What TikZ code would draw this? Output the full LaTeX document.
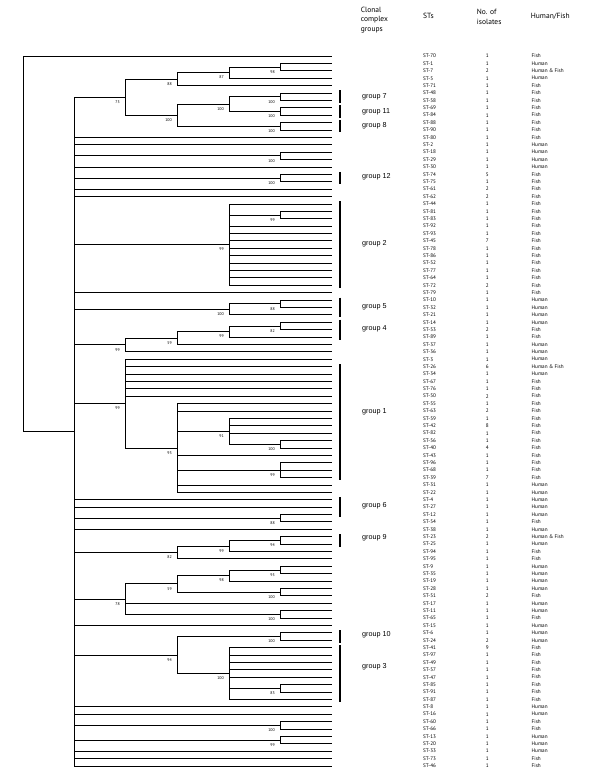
\documentclass[tikz,border=0pt]{standalone}
\usepackage{fontspec}
\setmainfont{PT Sans}
\newfontfamily\grpfont{Liberation Sans}
\usetikzlibrary{calc}

\tikzset{
  branch/.style={line width=0.8pt, line join=miter},
  boot/.style={font=\fontsize{4}{4}\selectfont, anchor=north east, inner sep=0pt, xshift=-5pt, yshift=-3.3pt},
  lbl/.style={font=\fontsize{5.2}{6}\selectfont, anchor=west, inner sep=0pt},
  cnt/.style={font=\fontsize{5.2}{6}\selectfont, anchor=center, inner sep=0pt},
  head/.style={font=\fontsize{7.5}{9.3}\selectfont, anchor=west, inner sep=0pt, align=left},
  grpbar/.style={line width=2pt},
  grplbl/.style={font=\grpfont\fontsize{7.2}{8}\selectfont, anchor=west, inner sep=0pt},
}

% clade: name, x, first child, last child, bootstrap, children
\newcommand{\clade}[6]{%
  \path let \p1=($(#3)!.5!(#4)$) in coordinate (#1) at (#2pt,\y1);
  \foreach \ch in {#6} \draw[branch] (#1) |- (\ch);
  \node[boot] (#1b) at (#1) {#5};}

% group bar: name, first leaf, last leaf, text, label y
\newcommand{\grp}[5]{%
  \path let \p1=(#2), \p2=(#3) in
    coordinate (#1a) at (340pt,\y1+2.5pt)
    coordinate (#1b) at (340pt,\y2-2.5pt);
  \draw[grpbar] (#1a) -- (#1b);
  \node[grplbl] (#1) at (362,#5) {#4};}

\begin{document}
\begin{tikzpicture}[x=1pt, y=-1pt]
    \useasboundingbox (0,0) rectangle (600,776);

    % Header
    \node[head] (hcc) at (360.7,20) {Clonal\\complex\\groups};
    \node[head] (hst) at (423,16) {STs};
    \node[head] (hno) at (476.7,17) {No. of\\isolates};
    \node[head] (hhf) at (530.7,16) {Human/Fish};

    % Leaves and their columns
    \foreach \i/\st/\n/\src in {
      1/70/1/Fish, 2/1/1/Human, 3/7/2/Human \& Fish, 4/5/1/Human, 5/71/1/Fish,
      6/48/1/Fish, 7/58/1/Fish, 8/69/1/Fish, 9/84/1/Fish, 10/88/1/Fish,
      11/90/1/Fish, 12/80/1/Fish, 13/2/1/Human, 14/18/1/Human, 15/29/1/Human,
      16/30/1/Human, 17/74/5/Fish, 18/75/1/Fish, 19/61/2/Fish, 20/62/2/Fish,
      21/44/1/Fish, 22/81/1/Fish, 23/83/1/Fish, 24/92/1/Fish, 25/93/1/Fish,
      26/45/7/Fish, 27/78/1/Fish, 28/86/1/Fish, 29/52/1/Fish, 30/77/1/Fish,
      31/64/1/Fish, 32/72/2/Fish, 33/79/1/Fish, 34/10/1/Human, 35/32/1/Human,
      36/21/1/Human, 37/14/1/Human, 38/53/2/Fish, 39/89/1/Fish, 40/37/1/Human,
      41/36/1/Human, 42/3/1/Human, 43/26/6/Human \& Fish, 44/34/1/Human, 45/67/1/Fish,
      46/76/1/Fish, 47/50/2/Fish, 48/55/1/Fish, 49/63/2/Fish, 50/59/1/Fish,
      51/42/8/Fish, 52/82/1/Fish, 53/56/1/Fish, 54/40/4/Fish, 55/43/1/Fish,
      56/96/1/Fish, 57/68/1/Fish, 58/39/7/Fish, 59/31/1/Human, 60/22/1/Human,
      61/4/1/Human, 62/27/1/Human, 63/12/1/Human, 64/54/1/Fish, 65/38/1/Human,
      66/23/2/Human \& Fish, 67/25/1/Human, 68/94/1/Fish, 69/95/1/Fish, 70/9/1/Human,
      71/35/1/Human, 72/19/1/Human, 73/28/1/Human, 74/51/2/Fish, 75/17/1/Human,
      76/11/1/Human, 77/65/1/Fish, 78/15/1/Human, 79/6/1/Human, 80/24/2/Human,
      81/41/9/Fish, 82/97/1/Fish, 83/49/1/Fish, 84/57/1/Fish, 85/47/1/Fish,
      86/85/1/Fish, 87/91/1/Fish, 88/87/1/Fish, 89/8/1/Human, 90/16/1/Human,
      91/60/1/Fish, 92/66/1/Fish, 93/13/1/Human, 94/20/1/Human, 95/33/1/Human,
      96/73/1/Fish, 97/46/1/Fish}
    {
      \pgfmathsetmacro{\yy}{56+7.395*(\i-1)}
      \coordinate (l\i) at (332,\yy);
      \node[lbl] (st\i) at (423,\yy) {ST-\st};
      \node[cnt] (n\i) at (487.3,\yy) {\n};
      \node[lbl] (h\i) at (531.5,\yy) {\src};
    }

    % Upper clades
    \clade{c1}{280}{l2}{l3}{98}{l2,l3}
    \clade{c2}{229}{c1}{l4}{87}{c1,l4}
    \clade{c3}{177}{c2}{l5}{88}{c2,l5}
    \clade{g7}{280}{l6}{l7}{100}{l6,l7}
    \clade{g11}{280}{l8}{l9}{100}{l8,l9}
    \clade{c4}{229}{g7}{g11}{100}{g7,g11}
    \clade{g8}{280}{l10}{l11}{100}{l10,l11}
    \clade{c5}{177}{c4}{g8}{100}{c4,g8}
    \clade{c6}{125}{c3}{c5}{75}{c3,c5}
    \clade{c7}{280}{l14}{l15}{100}{l14,l15}
    \clade{g12}{280}{l17}{l18}{100}{l17,l18}
    \clade{c8}{280}{l22}{l23}{99}{l22,l23}
    \clade{g2}{229}{l21}{l32}{99}{l21,c8,l24,l25,l26,l27,l28,l29,l30,l31,l32}
    \clade{c9}{280}{l34}{l35}{88}{l34,l35}
    \clade{g5}{229}{c9}{l36}{100}{c9,l36}
    \clade{c10}{280}{l37}{l38}{82}{l37,l38}
    \clade{g4}{229}{c10}{l39}{99}{c10,l39}
    \clade{c11}{177}{g4}{l40}{59}{g4,l40}
    \clade{c12}{125}{c11}{l41}{99}{c11,l41}

    % Group 1 clade
    \clade{c13}{280}{l53}{l54}{100}{l53,l54}
    \clade{c14}{229}{l50}{c13}{91}{l50,l51,l52,c13}
    \clade{c15}{280}{l56}{l58}{99}{l56,l57,l58}
    \clade{c16}{177}{l48}{l60}{93}{l48,l49,c14,l55,c15,l59,l60}
    \clade{c17}{125}{l42}{c16}{99}{l42,l43,l44,l45,l46,l47,c16}

    % Lower clades
    \clade{c18}{280}{l63}{l64}{88}{l63,l64}
    \clade{g9}{280}{l66}{l67}{94}{l66,l67}
    \clade{c19}{229}{g9}{l68}{99}{g9,l68}
    \clade{c20}{177}{c19}{l69}{82}{c19,l69}
    \clade{c21}{280}{l70}{l71}{95}{l70,l71}
    \clade{c22}{229}{c21}{l72}{98}{c21,l72}
    \clade{c23}{280}{l73}{l74}{100}{l73,l74}
    \clade{c24}{177}{c22}{c23}{59}{c22,c23}
    \clade{c25}{280}{l76}{l77}{100}{l76,l77}
    \clade{c26}{125}{c24}{c25}{78}{c24,l75,c25}
    \clade{g10}{280}{l79}{l80}{100}{l79,l80}
    \clade{c27}{280}{l86}{l87}{83}{l86,l87}
    \clade{g3}{229}{l81}{l88}{100}{l81,l82,l83,l84,l85,c27,l88}
    \clade{c28}{177}{g10}{g3}{94}{g10,g3}
    \clade{c29}{280}{l91}{l92}{100}{l91,l92}
    \clade{c30}{280}{l93}{l94}{99}{l93,l94}

    % Backbone and root
    \clade{top}{74}{c6}{l97}{}{c6,l12,l13,c7,l16,g12,l19,l20,g2,l33,g5,c12,c17,l61,l62,c18,l65,c20,c26,l78,c28,l89,l90,c29,c30,l95,l96,l97}
    \clade{root}{23}{l1}{top}{}{l1,top}

    % Clonal complex groups
    \grp{grp7}{l6}{l7}{group 7}{97}
    \grp{grp11}{l8}{l9}{group 11}{111.5}
    \grp{grp8}{l10}{l11}{group 8}{125.5}
    \grp{grp12}{l17}{l18}{group 12}{177}
    \grp{grp2}{l21}{l32}{group 2}{244}
    \grp{grp5}{l34}{l36}{group 5}{307}
    \grp{grp4}{l37}{l39}{group 4}{328.5}
    \grp{grp1}{l43}{l58}{group 1}{412}
    \grp{grp6}{l61}{l63}{group 6}{506}
    \grp{grp9}{l66}{l67}{group 9}{537.5}
    \grp{grp10}{l79}{l80}{group 10}{635}
    \grp{grp3}{l81}{l88}{group 3}{667}
\end{tikzpicture}
\end{document}
